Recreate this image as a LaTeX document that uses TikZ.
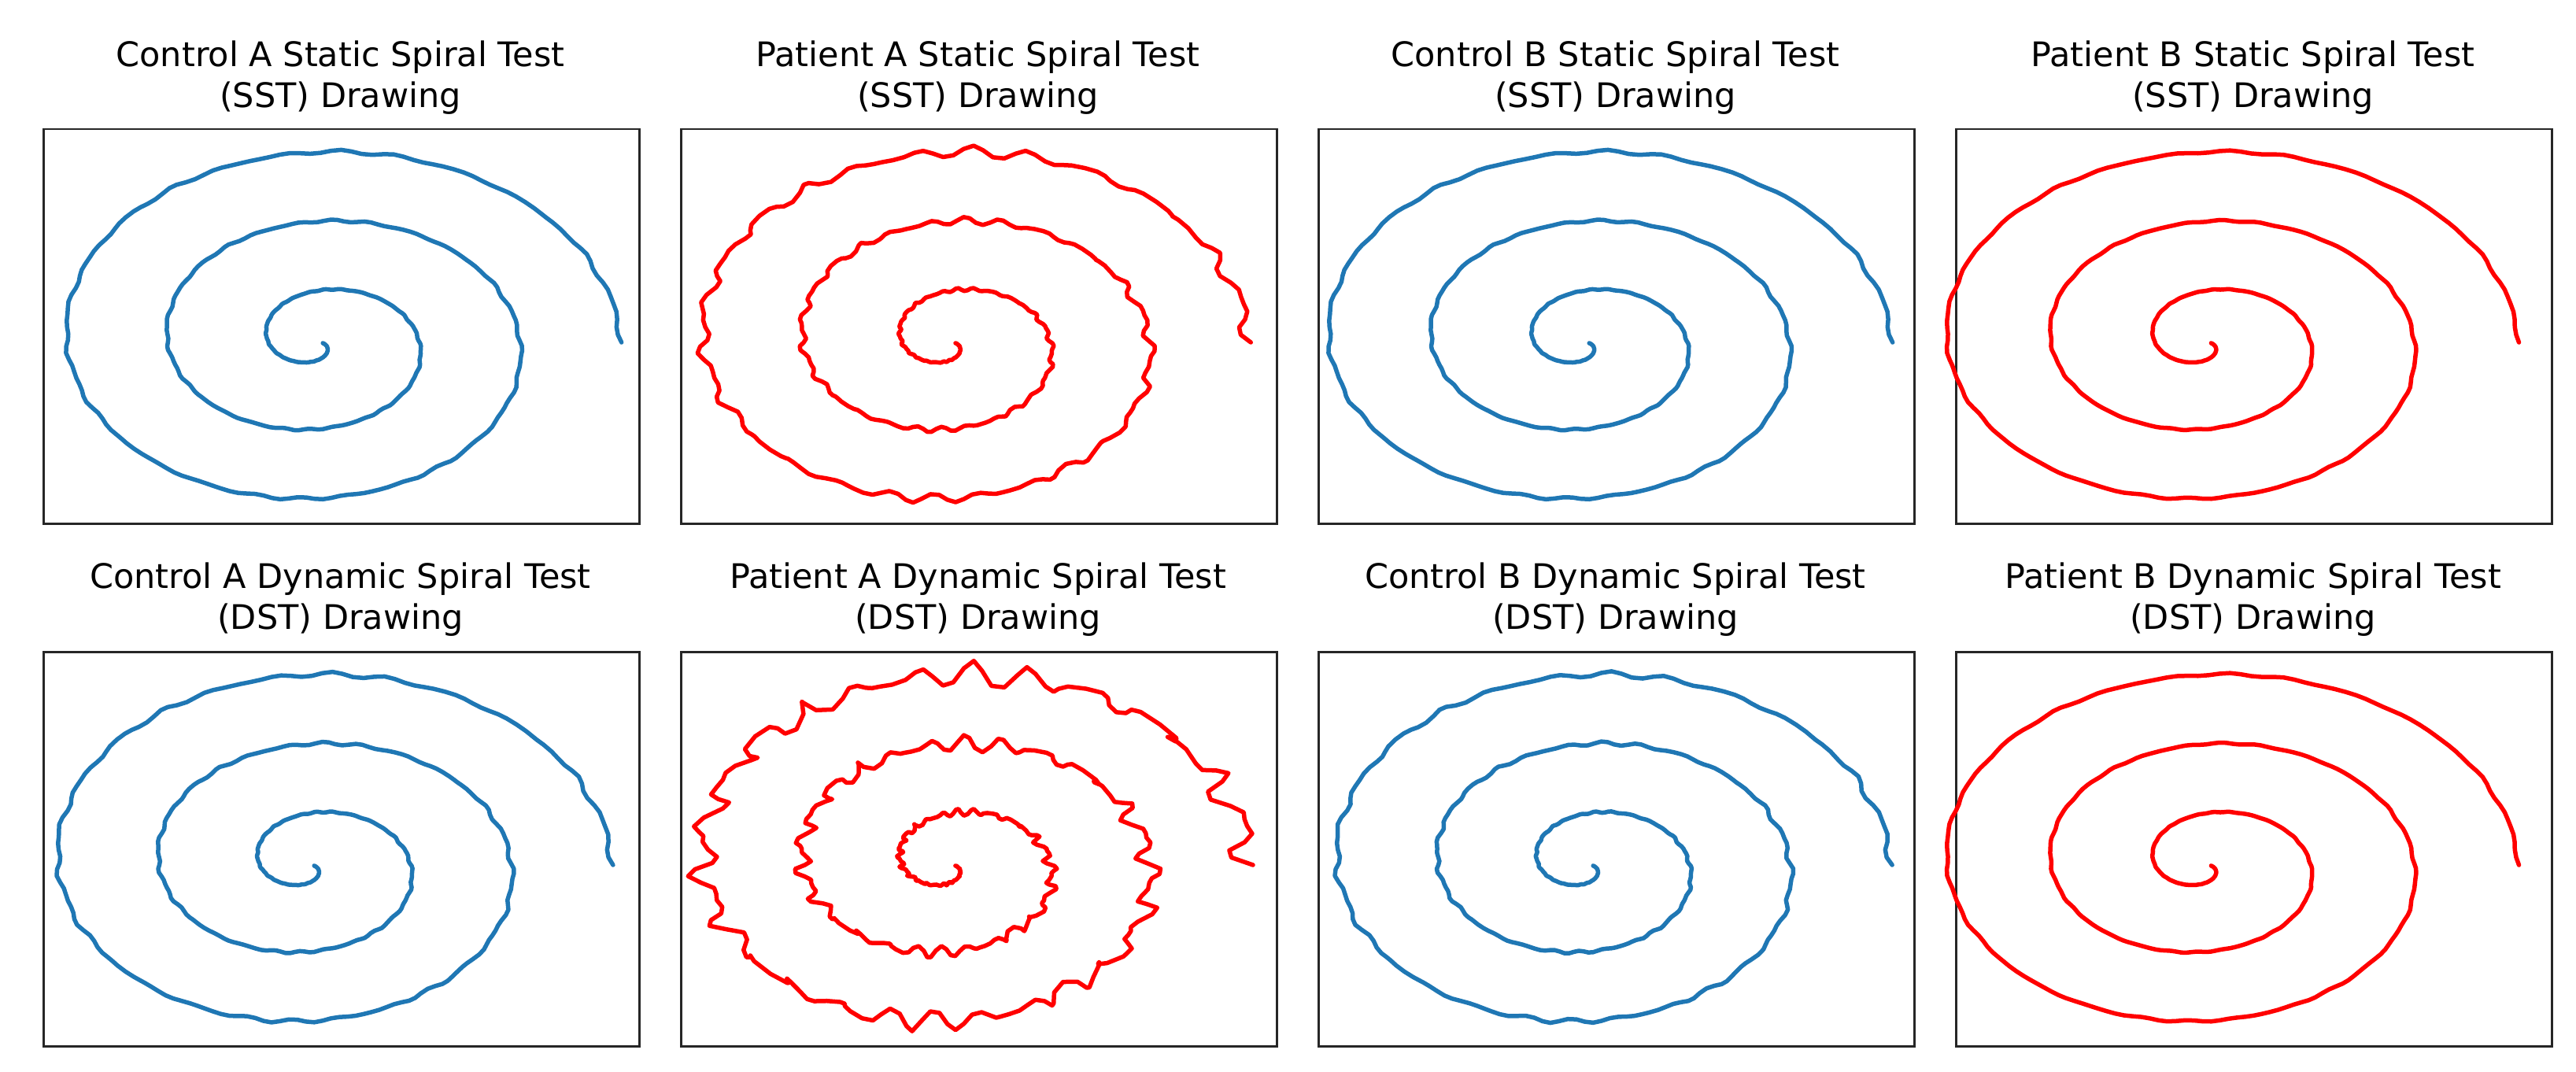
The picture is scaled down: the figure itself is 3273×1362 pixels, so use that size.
\documentclass[tikz,border=0pt]{standalone}
\usepackage{fontspec}
\setmainfont{DejaVu Sans}
\definecolor{mblue}{HTML}{1F77B4}
\definecolor{mred}{HTML}{FF0000}
\definecolor{frame}{HTML}{262626}
\tikzset{
 panelbox/.style={draw=frame,line width=2.5bp,minimum width=757bp,minimum height=501bp,inner sep=0,anchor=north west},
 ttl/.style={align=center,font=\fontsize{43bp}{52bp}\selectfont,inner sep=0},
 curve/.style={line width=5.5bp,line join=round,line cap=round}
}
% #1 name, #2 box left, #3 box top, #4 colour, #5 wobble, #6 cx off, #7 a
\newcommand\myspiral[7]{%
 \node[panelbox] (#1) at (#2,#3) {};
 \draw[curve,#4] plot[domain=15:1080,samples=500]
  ({#2+#6+#7*(\x/360)*cos(\x)*(1+#5*sin(23*mod(\x,360))+0.6*#5*sin(41*mod(\x,360)+30))},
   {#3+272+88*(\x/360)*sin(\x)*(1+#5*sin(29*mod(\x,360)+60)+0.6*#5*sin(37*mod(\x,360)))});
}
\begin{document}
\begin{tikzpicture}[x=1bp,y=-1bp]
\useasboundingbox (0,0) rectangle (3273,1362);
\myspiral{p1}{54}{163}{mblue}{0.006}{351}{128}
\myspiral{p2}{864}{163}{mred}{0.02}{345}{126}
\myspiral{p3}{1674}{163}{mblue}{0.006}{340}{130}
\myspiral{p4}{2484}{163}{mred}{0.004}{320}{132}
\myspiral{p5}{54}{827}{mblue}{0.008}{340}{128}
\myspiral{p6}{864}{827}{mred}{0.045}{345}{126}
\myspiral{p7}{1674}{827}{mblue}{0.01}{345}{128}
\myspiral{p8}{2484}{827}{mred}{0.004}{320}{132}
\node[ttl] (t1) at (432.5,99) {Control A Static Spiral Test\\(SST) Drawing};
\node[ttl] (t2) at (1242.5,99) {Patient A Static Spiral Test\\(SST) Drawing};
\node[ttl] (t3) at (2052.5,99) {Control B Static Spiral Test\\(SST) Drawing};
\node[ttl] (t4) at (2862.5,99) {Patient B Static Spiral Test\\(SST) Drawing};
\node[ttl] (t5) at (432.5,762) {Control A Dynamic Spiral Test\\(DST) Drawing};
\node[ttl] (t6) at (1242.5,762) {Patient A Dynamic Spiral Test\\(DST) Drawing};
\node[ttl] (t7) at (2052.5,762) {Control B Dynamic Spiral Test\\(DST) Drawing};
\node[ttl] (t8) at (2862.5,762) {Patient B Dynamic Spiral Test\\(DST) Drawing};
\end{tikzpicture}
\end{document}
